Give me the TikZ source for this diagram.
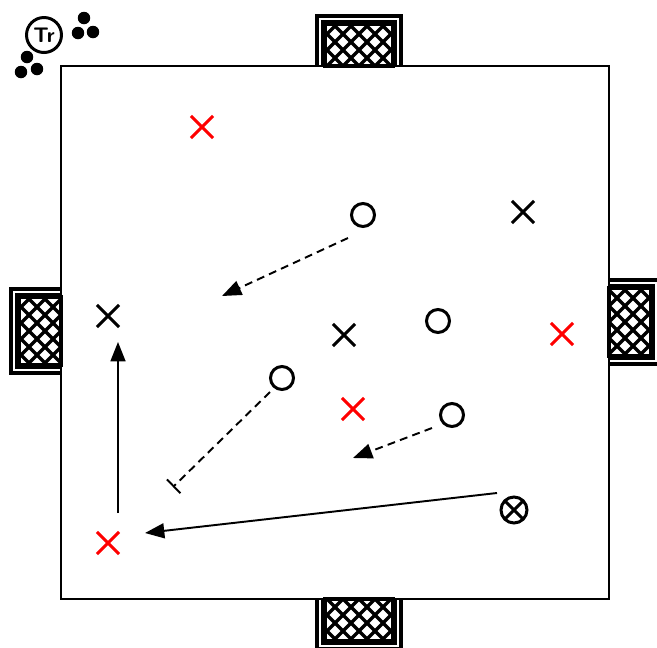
\documentclass[tikz,border=0pt]{standalone}
\usetikzlibrary{arrows.meta,shapes.misc}

\begin{document}
\begin{tikzpicture}[x=0.02cm,y=-0.02cm,
  player/.style={draw,circle,line width=1.7pt,minimum size=4.6mm,inner sep=0pt},
  opp/.style={cross out,draw,line width=1.8pt,minimum size=3.8mm,inner sep=0pt},
  redopp/.style={opp,draw=red},
  spare/.style={fill,circle,minimum size=2.5mm,inner sep=0pt},
  pass/.style={line width=1.1pt,-{Triangle[length=11pt,width=8.5pt]}},
  run/.style={pass,dash pattern=on 4.5pt off 3pt},
  stop/.style={line width=1.1pt,dash pattern=on 4.5pt off 3pt,-{Bar[width=11pt,line width=1.1pt]}},
  goal/.pic={
    \draw[line width=1.9pt] (-42,0)--(-42,-50)--(42,-50)--(42,0);
    \draw[line width=0.8pt] (-37,0)--(-37,-45)--(37,-45)--(37,0);
    \begin{scope}
      \clip (-34,0) rectangle (34,-42);
      \foreach \k in {-96,-80,...,96} {\draw[line width=2pt] (\k,0)--++(-50,-50) (\k,0)--++(50,-50);}
    \end{scope}
    \draw[line width=1.8pt] (-34,0) rectangle (34,-42);
  }]
\useasboundingbox (0,0) rectangle (657,647);

% goals
\pic at (359,66) {goal};
\pic[rotate=90] at (61,331) {goal};
\pic[rotate=-90] at (609,322) {goal};
\pic[rotate=180] at (359,599) {goal};

% field
\draw[line width=0.9pt] (61,66) rectangle (609,599);

% coach and balls
\node[player,minimum size=7mm,font=\sffamily\bfseries\large] (coach) at (44,35) {Tr};
\node[spare] (b1) at (84,18) {};
\node[spare] (b2) at (78,33) {};
\node[spare] (b3) at (93,32) {};
\node[spare] (b4) at (27,57) {};
\node[spare] (b5) at (21,72) {};
\node[spare] (b6) at (37,69) {};

% attackers
\node[player] (o1) at (363,215) {};
\node[player] (o2) at (438,321) {};
\node[player] (o3) at (282,378) {};
\node[player] (o4) at (452,415) {};
\node[player,minimum size=5.2mm,path picture={
  \draw[line width=1.7pt] (path picture bounding box.north west)--(path picture bounding box.south east)
    (path picture bounding box.north east)--(path picture bounding box.south west);}] (ball) at (514,510) {};

% defenders
\node[opp] (x1) at (523,212) {};
\node[opp] (x2) at (108,316) {};
\node[opp] (x3) at (344,335) {};
\node[redopp] (r1) at (202,127) {};
\node[redopp] (r2) at (562,334) {};
\node[redopp] (r3) at (353,409) {};
\node[redopp] (r4) at (108,543) {};

% movements
\coordinate (s1) at (348,238); \coordinate (e1) at (222,296);
\coordinate (s2) at (118,513); \coordinate (e2) at (118,342);
\coordinate (s3) at (270,392); \coordinate (e3) at (173,487);
\coordinate (s4) at (432,428); \coordinate (e4) at (353,458);
\coordinate (s5) at (497,493); \coordinate (e5) at (145,533);
\draw[run] (s1)--(e1);
\draw[pass] (s2)--(e2);
\draw[stop] (s3)--(e3);
\draw[run] (s4)--(e4);
\draw[pass] (s5)--(e5);
\end{tikzpicture}
\end{document}
